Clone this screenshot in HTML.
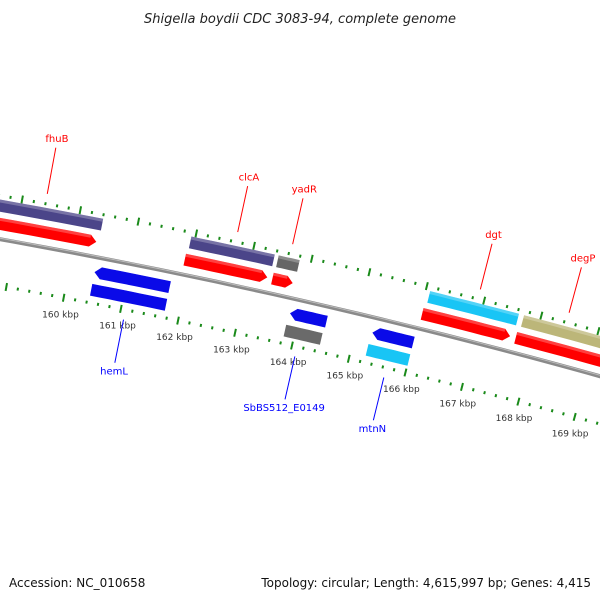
<!DOCTYPE html>
<html><head><meta charset="utf-8">
<style>
html,body{margin:0;padding:0;background:#fff;}
svg{display:block;font-family:"DejaVu Sans","Liberation Sans",sans-serif;}
</style></head>
<body>
<svg id="map" width="600" height="600" viewBox="0 0 600 600" xmlns="http://www.w3.org/2000/svg">
<rect width="600" height="600" fill="#fff"/>
<text x="300" y="23" text-anchor="middle" font-size="13" font-style="italic" fill="#222">Shigella boydii CDC 3083-94, complete genome</text>
<text x="9" y="587" font-size="12" fill="#111">Accession: NC_010658</text>
<text x="591" y="587" font-size="12" fill="#111" text-anchor="end">Topology: circular; Length: 4,615,997 bp; Genes: 4,415</text>
<g id="plot"></g>
</svg>
<script>
// feature data (kbp)
const featNames = ["fhuB-cds","fhuB-gene","clcA-cds","clcA-gene","yadR-cds","yadR-gene","dgt-cds","dgt-gene","degP-cds","degP-gene","hemL-gene","hemL-cds","E0149-gene","E0149-cds","mtnN-gene","mtnN-cds"];
const featStart = [157.51,157.51,161.900,161.929,163.422,163.442,166.035,166.075,167.676,167.716,160.436,160.436,163.845,163.825,165.289,165.270];
const featEnd   = [160.367,160.407,163.334,163.373,163.776,163.806,167.578,167.627,171.26,171.26,161.743,161.743,164.483,164.464,166.006,166.006];
const featRing  = [1,2,1,2,1,2,1,2,1,2,-1,-2,-1,-2,-1,-2];
const featArrow = [1,0,1,0,1,0,1,0,1,0,-1,0,-1,0,-1,0];
const featColor = ["#ff0000","#4b4589","#ff0000","#4b4589","#ff0000","#666666","#ff0000","#19c5f5","#ff0000","#bcb679","#0a0ae8","#0a0ae8","#0a0ae8","#6a6a6a","#0a0ae8","#19c5f5"];
// labels
const labelText = ["fhuB","clcA","yadR","dgt","degP","hemL","SbBS512_E0149","mtnN"];
const labelKbp  = [159.40,162.68,163.63,166.89,168.44,161.08,164.09,165.66];
const labelSide = [1,1,1,1,1,-1,-1,-1];
// ruler ticks
const tickLabels = ["160 kbp","161 kbp","162 kbp","163 kbp","164 kbp","165 kbp","166 kbp","167 kbp","168 kbp","169 kbp"];
const tickKbp = [160,161,162,163,164,165,166,167,168,169];

const CX=-1140, CY=6612, R0=6474, KREF=163.963, AREF=0.22432, AP=0.009073;
const NS="http://www.w3.org/2000/svg";
const plot=document.getElementById('plot');
function pt(k,r){const a=AREF+(k-KREF)*AP;return [CX+r*Math.sin(a),CY-r*Math.cos(a)];}
function mk(tag,attrs){const e=document.createElementNS(NS,tag);for(const k in attrs)e.setAttribute(k,attrs[k]);plot.appendChild(e);return e;}
function ringR(ring){const s=Math.sign(ring),m=Math.abs(ring);return m===1?[R0+s*9,R0+s*21]:[R0+s*27,R0+s*39];}

// backbone
{const p=[];for(let k=150;k<=176;k+=0.5){p.push(pt(k,R0).map(v=>v.toFixed(1)).join(','));}
const bb=mk('polyline',{points:p.join(' '),fill:'none',stroke:'#8a8a8a','stroke-width':4});


const bb2=mk('polyline',{points:p.join(' '),fill:'none',stroke:'#bdbdbd','stroke-width':1,transform:'translate(0,-1)'});

}

// rulers
const ROUT=6517, RIN=6428;
for(let i=150*5;i<=176*5;i++){const k=i/5;const major=(i%5===0);
 [[ROUT,'outer'],[RIN,'inner']].forEach(([r,nm])=>{
  const h=major?4:1.5;const a=pt(k,r-h),b=pt(k,r+h);
  const t=mk('line',{x1:a[0],y1:a[1],x2:b[0],y2:b[1],stroke:'#1a8a1a','stroke-width':2});
  
  
 });}
tickKbp.forEach((k,i)=>{const p=pt(k,RIN-17);
 const t=mk('text',{x:p[0],y:p[1]+3,'text-anchor':'middle','font-size':9,fill:'#333'});
 t.textContent=tickLabels[i];
 
 });

// features
featStart.forEach((s,i)=>{const e=featEnd[i];const [r1,r2]=ringR(featRing[i]);const rm=(r1+r2)/2;
 const head=0.11;const pts=[];let a=s,b=e;
 if(featArrow[i]===1)b=e-head; if(featArrow[i]===-1)a=s+head;
 const n=8;
 for(let j=0;j<=n;j++)pts.push(pt(a+(b-a)*j/n,r1));
 if(featArrow[i]===1)pts.push(pt(e,rm));
 for(let j=n;j>=0;j--)pts.push(pt(a+(b-a)*j/n,r2));
 if(featArrow[i]===-1)pts.push(pt(s,rm));
 const poly=mk('polygon',{points:pts.map(p=>p[0].toFixed(1)+','+p[1].toFixed(1)).join(' '),fill:featColor[i]});
 
 
 const hi=[],hr=Math.max(r1,r2),hr2=hr-(hr>R0?3:-3);
 for(let j=0;j<=n;j++)hi.push(pt(a+(b-a)*j/n,hr));
 for(let j=n;j>=0;j--)hi.push(pt(a+(b-a)*j/n,hr2));
 const sh=mk('polygon',{points:hi.map(p=>p[0].toFixed(1)+','+p[1].toFixed(1)).join(' '),fill:'#fff','fill-opacity':0.25});
 
 
});

// labels
labelText.forEach((txt,i)=>{const k=labelKbp[i];const out=labelSide[i]>0;
 const a=out?pt(k,R0+53):pt(k,R0-56), b=out?pt(k,R0+100):pt(k,R0-100), c=out?pt(k,R0+106):pt(k,R0-104);
 const col=out?'#ff0000':'#0000ff';
 const l=mk('line',{x1:a[0],y1:a[1],x2:b[0],y2:b[1],stroke:col,'stroke-width':1});
 
 
 const t=mk('text',{x:c[0],y:c[1]+(out?0:8),'text-anchor':'middle','font-size':10,fill:col});
 t.textContent=txt;
 
 });
</script>
</body></html>
